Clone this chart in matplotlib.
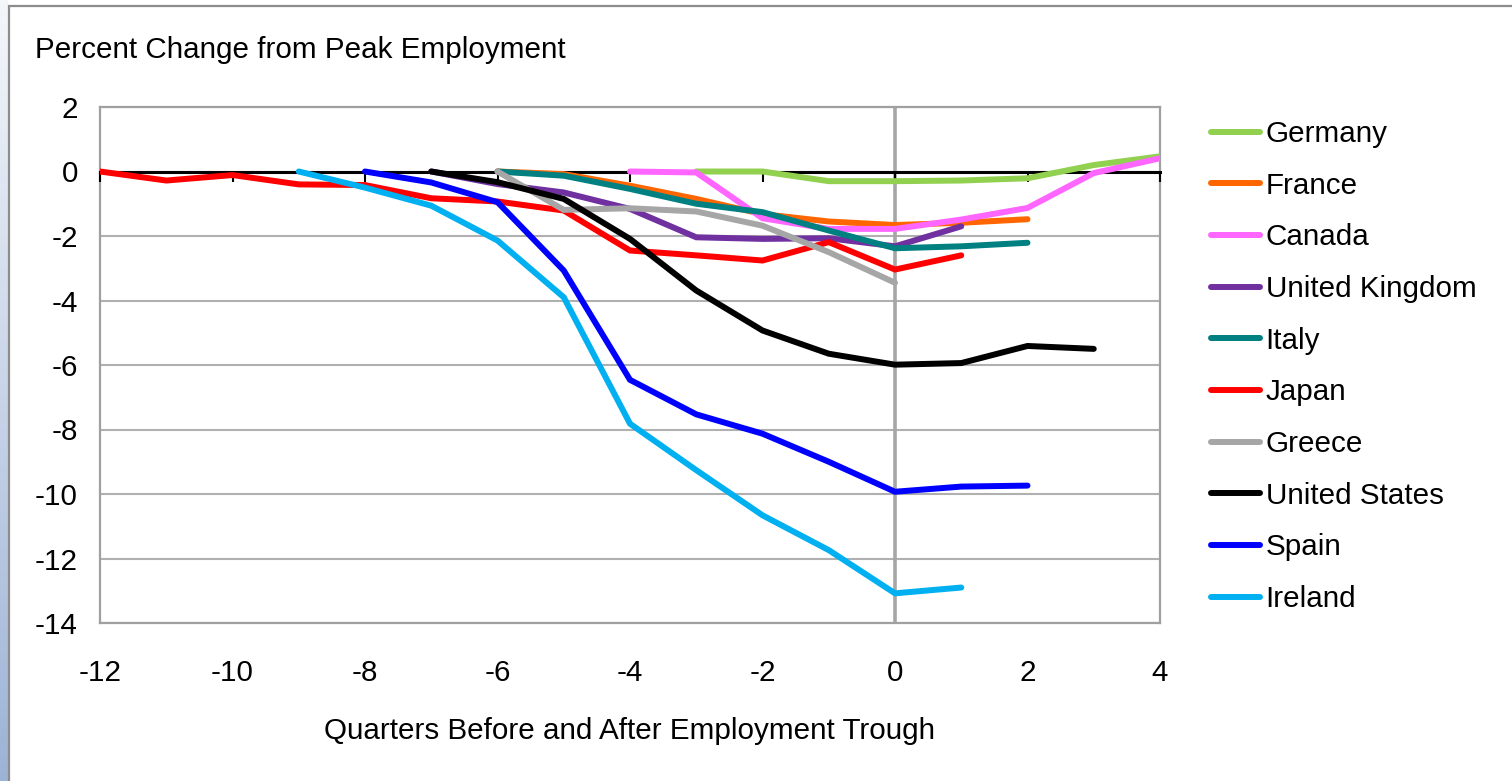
import numpy as np
import matplotlib
matplotlib.use("Agg")
import matplotlib.pyplot as plt
from matplotlib.patches import Rectangle
from matplotlib.colors import LinearSegmentedColormap

plt.rcParams['font.family'] = ['Liberation Sans', 'DejaVu Sans']

# ---- data ----
countries = ["Germany", "France", "Canada", "United Kingdom", "Italy",
             "Japan", "Greece", "United States", "Spain", "Ireland"]
colors = ["#92D050", "#FF6600", "#FF66FF", "#7030A0", "#008080",
          "#FF0000", "#A6A6A6", "#000000", "#0000FF", "#00B0F0"]

germany_q = [-3, -2, -1, 0, 1, 2, 3, 4]
germany_v = [0.0, 0.0, -0.3, -0.3, -0.28, -0.21, 0.2, 0.47]

france_q = [-6, -5, -4, -3, -2, -1, 0, 1, 2]
france_v = [0.0, -0.08, -0.44, -0.85, -1.32, -1.55, -1.66, -1.59, -1.48]

canada_q = [-4, -3, -2, -1, 0, 1, 2, 3, 4]
canada_v = [0.0, -0.03, -1.45, -1.78, -1.78, -1.49, -1.13, -0.05, 0.41]

uk_q = [-7, -6, -5, -4, -3, -2, -1, 0, 1]
uk_v = [0.0, -0.39, -0.65, -1.16, -2.04, -2.09, -2.07, -2.32, -1.7]

italy_q = [-6, -5, -4, -3, -2, -1, 0, 1, 2]
italy_v = [0.0, -0.13, -0.54, -1.0, -1.26, -1.83, -2.38, -2.32, -2.21]

japan_q = [-12, -11, -10, -9, -8, -7, -6, -5, -4, -3, -2, -1, 0, 1]
japan_v = [0.0, -0.28, -0.11, -0.4, -0.42, -0.83, -0.93, -1.21, -2.45,
           -2.6, -2.76, -2.19, -3.04, -2.6]

greece_q = [-6, -5, -4, -3, -2, -1, 0]
greece_v = [0.0, -1.19, -1.14, -1.24, -1.68, -2.5, -3.45]

us_q = [-7, -6, -5, -4, -3, -2, -1, 0, 1, 2, 3]
us_v = [0.0, -0.33, -0.85, -2.09, -3.69, -4.93, -5.65, -5.99, -5.94, -5.41, -5.5]

spain_q = [-8, -7, -6, -5, -4, -3, -2, -1, 0, 1, 2]
spain_v = [0.0, -0.34, -0.95, -3.07, -6.46, -7.53, -8.13, -9.0, -9.93, -9.77, -9.74]

ireland_q = [-9, -8, -7, -6, -5, -4, -3, -2, -1, 0, 1]
ireland_v = [0.0, -0.5, -1.06, -2.14, -3.9, -7.82, -9.26, -10.66, -11.74, -13.08, -12.9]

series_q = [germany_q, france_q, canada_q, uk_q, italy_q,
            japan_q, greece_q, us_q, spain_q, ireland_q]
series_v = [germany_v, france_v, canada_v, uk_v, italy_v,
            japan_v, greece_v, us_v, spain_v, ireland_v]

x_ticks = [-12, -10, -8, -6, -4, -2, 0, 2, 4]
y_ticks = [2, 0, -2, -4, -6, -8, -10, -12, -14]
trough_q = 0

title = "Percent Change from Peak Employment"
xlabel = "Quarters Before and After Employment Trough"

# ---- figure ----
W, H = 1512, 781
fig = plt.figure(figsize=(W / 100, H / 100), dpi=100)
fig.patch.set_facecolor("white")

# slide background strip on the left
bg = fig.add_axes([0, 0, 8 / W, 1])
grad = np.linspace(0, 1, 256).reshape(-1, 1)
cm = LinearSegmentedColormap.from_list("bgc", ["#F4F6FA", "#9DB3D6"])
bg.imshow(grad, aspect="auto", cmap=cm, extent=[0, 1, 0, 1], origin="upper")
bg.axis("off")

# chart border
fig.patches.append(Rectangle((8.5 / W, -0.1), 1.2, 1.1 - 6.5 / H,
                             transform=fig.transFigure, fill=False,
                             edgecolor="#8C8C8C", linewidth=1.6, zorder=0))

ax_left, ax_right = 100 / W, 1160 / W
ax_top, ax_bot = 1 - 107 / H, 1 - 623 / H
ax = fig.add_axes([ax_left, ax_bot, ax_right - ax_left, ax_top - ax_bot])
ax.set_xlim(-12, 4)
ax.set_ylim(-14, 2)

FS = 21.3
for s in ax.spines.values():
    s.set_color("#A0A0A0")
    s.set_linewidth(1.6)

ax.set_yticks(y_ticks)
ax.set_yticklabels([str(v) for v in y_ticks], fontsize=FS)
ax.set_xticks(x_ticks)
ax.set_xticklabels([str(v) for v in x_ticks], fontsize=FS)
ax.tick_params(axis="y", length=0, pad=16)
ax.tick_params(axis="x", length=0, pad=26)
ax.yaxis.grid(True, color="#B0B0B0", linewidth=1.5)
ax.set_axisbelow(True)

# x axis line crossing at zero with tick marks
ax2 = ax.twiny()
ax2.set_xlim(ax.get_xlim())
for k in ["top", "left", "right"]:
    ax2.spines[k].set_visible(False)
ax2.spines["bottom"].set_position(("data", 0))
ax2.spines["bottom"].set_color("black")
ax2.spines["bottom"].set_linewidth(2.2)
ax2.xaxis.set_ticks_position("bottom")
ax2.set_xticks(x_ticks)
ax2.tick_params(axis="x", direction="out", length=7, width=1.5,
                labelbottom=False, labeltop=False, color="black")
ax2.patch.set_visible(False)

# trough line
ax.axvline(trough_q, color="#A6A6A6", linewidth=2.6, zorder=1.5)

handles = []
for name, col, q, v in zip(countries, colors, series_q, series_v):
    ln, = ax2.plot(q, v, color=col, linewidth=4.3, solid_capstyle="round",
                   solid_joinstyle="miter", label=name, zorder=3)
    handles.append(ln)
ax2.set_ylim(-14, 2)

leg = fig.legend(handles=handles, loc="upper left",
                 bbox_to_anchor=(1211 / W, 1 - 120 / H),
                 frameon=False, fontsize=FS, handlelength=1.65,
                 handletextpad=0.2, labelspacing=0.8, borderpad=0,
                 borderaxespad=0)

fig.text(35 / W, 1 - 50 / H, title, fontsize=FS, ha="left", va="center")
fig.text(630 / W, 1 - 731 / H, xlabel, fontsize=FS, ha="center", va="center")

fig.savefig("out.png", dpi=100)
